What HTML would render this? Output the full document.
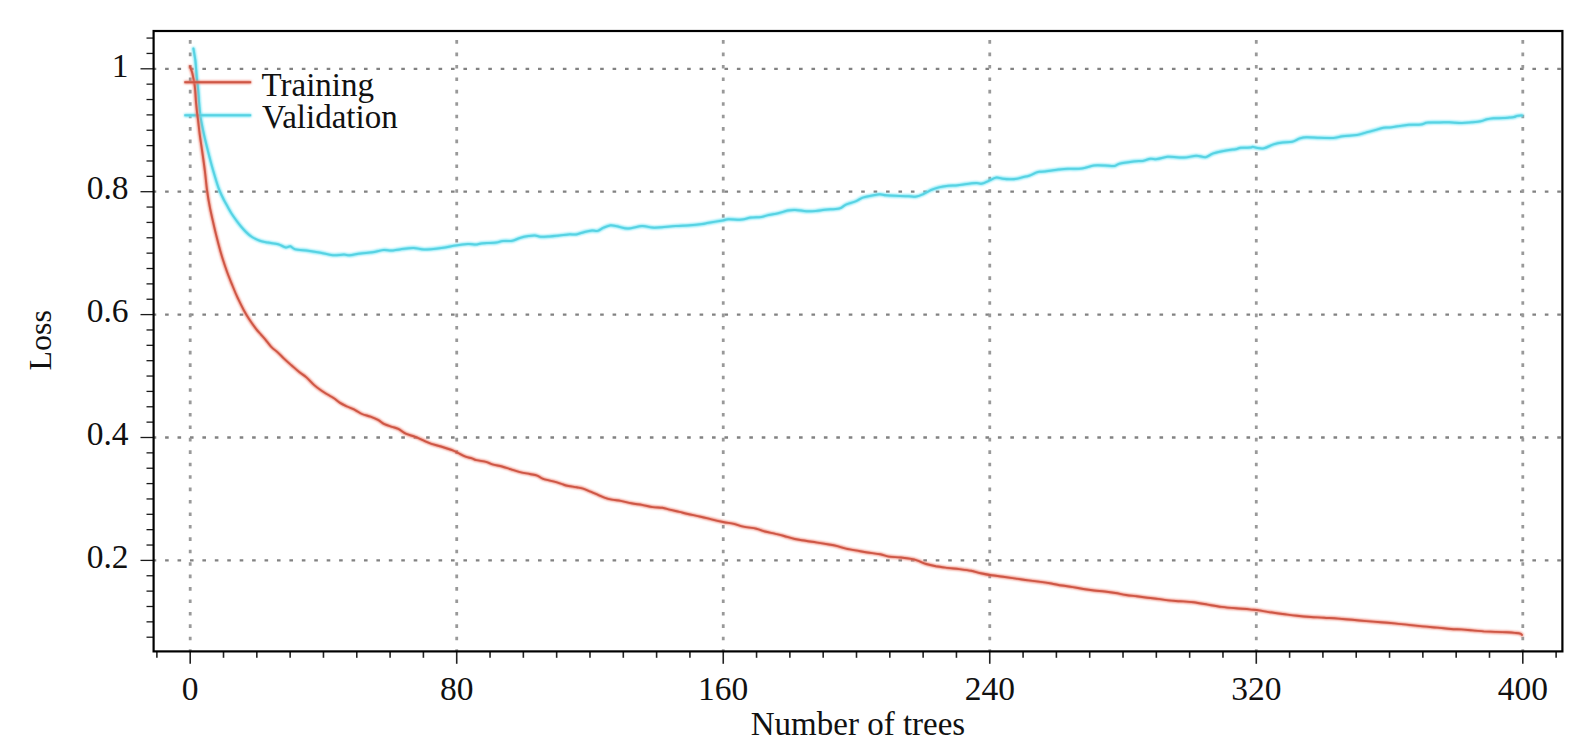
<!DOCTYPE html>
<html><head><meta charset="utf-8"><style>
html,body{margin:0;padding:0;background:#fff;}
svg{display:block;}
#w{width:1596px;height:750px;}
</style></head><body>
<div id="w"><svg width="1596" height="750" viewBox="0 0 1596 750">
<defs><filter id="hb" filterUnits="userSpaceOnUse" x="0" y="0" width="1596" height="750"><feGaussianBlur stdDeviation="1"/></filter></defs>
<rect width="1596" height="750" fill="#fff"/>
<line x1="153.6" y1="68.80" x2="1562.4" y2="68.80" stroke="#828282" stroke-width="2.3" stroke-dasharray="3.6 8.83" stroke-dashoffset="0.93"/>
<line x1="153.6" y1="191.70" x2="1562.4" y2="191.70" stroke="#828282" stroke-width="2.3" stroke-dasharray="3.6 8.83" stroke-dashoffset="0.93"/>
<line x1="153.6" y1="314.60" x2="1562.4" y2="314.60" stroke="#828282" stroke-width="2.3" stroke-dasharray="3.6 8.83" stroke-dashoffset="0.93"/>
<line x1="153.6" y1="437.50" x2="1562.4" y2="437.50" stroke="#828282" stroke-width="2.3" stroke-dasharray="3.6 8.83" stroke-dashoffset="0.93"/>
<line x1="153.6" y1="560.40" x2="1562.4" y2="560.40" stroke="#828282" stroke-width="2.3" stroke-dasharray="3.6 8.83" stroke-dashoffset="0.93"/>
<line x1="190.20" y1="31.0" x2="190.20" y2="651.4" stroke="#999999" stroke-width="2.8" stroke-dasharray="3.6 8.83" stroke-dashoffset="3.32"/>
<line x1="456.72" y1="31.0" x2="456.72" y2="651.4" stroke="#999999" stroke-width="2.8" stroke-dasharray="3.6 8.83" stroke-dashoffset="3.32"/>
<line x1="723.24" y1="31.0" x2="723.24" y2="651.4" stroke="#999999" stroke-width="2.8" stroke-dasharray="3.6 8.83" stroke-dashoffset="3.32"/>
<line x1="989.76" y1="31.0" x2="989.76" y2="651.4" stroke="#999999" stroke-width="2.8" stroke-dasharray="3.6 8.83" stroke-dashoffset="3.32"/>
<line x1="1256.28" y1="31.0" x2="1256.28" y2="651.4" stroke="#999999" stroke-width="2.8" stroke-dasharray="3.6 8.83" stroke-dashoffset="3.32"/>
<line x1="1522.80" y1="31.0" x2="1522.80" y2="651.4" stroke="#999999" stroke-width="2.8" stroke-dasharray="3.6 8.83" stroke-dashoffset="3.32"/>
<line x1="146.5" y1="38.07" x2="153.6" y2="38.07" stroke="#1a1a1a" stroke-width="1.3"/>
<line x1="146.5" y1="53.44" x2="153.6" y2="53.44" stroke="#1a1a1a" stroke-width="1.3"/>
<line x1="140.5" y1="68.80" x2="153.6" y2="68.80" stroke="#1a1a1a" stroke-width="1.3"/>
<line x1="146.5" y1="84.16" x2="153.6" y2="84.16" stroke="#1a1a1a" stroke-width="1.3"/>
<line x1="146.5" y1="99.53" x2="153.6" y2="99.53" stroke="#1a1a1a" stroke-width="1.3"/>
<line x1="146.5" y1="114.89" x2="153.6" y2="114.89" stroke="#1a1a1a" stroke-width="1.3"/>
<line x1="146.5" y1="130.25" x2="153.6" y2="130.25" stroke="#1a1a1a" stroke-width="1.3"/>
<line x1="146.5" y1="145.61" x2="153.6" y2="145.61" stroke="#1a1a1a" stroke-width="1.3"/>
<line x1="146.5" y1="160.98" x2="153.6" y2="160.98" stroke="#1a1a1a" stroke-width="1.3"/>
<line x1="146.5" y1="176.34" x2="153.6" y2="176.34" stroke="#1a1a1a" stroke-width="1.3"/>
<line x1="140.5" y1="191.70" x2="153.6" y2="191.70" stroke="#1a1a1a" stroke-width="1.3"/>
<line x1="146.5" y1="207.06" x2="153.6" y2="207.06" stroke="#1a1a1a" stroke-width="1.3"/>
<line x1="146.5" y1="222.43" x2="153.6" y2="222.43" stroke="#1a1a1a" stroke-width="1.3"/>
<line x1="146.5" y1="237.79" x2="153.6" y2="237.79" stroke="#1a1a1a" stroke-width="1.3"/>
<line x1="146.5" y1="253.15" x2="153.6" y2="253.15" stroke="#1a1a1a" stroke-width="1.3"/>
<line x1="146.5" y1="268.51" x2="153.6" y2="268.51" stroke="#1a1a1a" stroke-width="1.3"/>
<line x1="146.5" y1="283.88" x2="153.6" y2="283.88" stroke="#1a1a1a" stroke-width="1.3"/>
<line x1="146.5" y1="299.24" x2="153.6" y2="299.24" stroke="#1a1a1a" stroke-width="1.3"/>
<line x1="140.5" y1="314.60" x2="153.6" y2="314.60" stroke="#1a1a1a" stroke-width="1.3"/>
<line x1="146.5" y1="329.96" x2="153.6" y2="329.96" stroke="#1a1a1a" stroke-width="1.3"/>
<line x1="146.5" y1="345.32" x2="153.6" y2="345.32" stroke="#1a1a1a" stroke-width="1.3"/>
<line x1="146.5" y1="360.69" x2="153.6" y2="360.69" stroke="#1a1a1a" stroke-width="1.3"/>
<line x1="146.5" y1="376.05" x2="153.6" y2="376.05" stroke="#1a1a1a" stroke-width="1.3"/>
<line x1="146.5" y1="391.41" x2="153.6" y2="391.41" stroke="#1a1a1a" stroke-width="1.3"/>
<line x1="146.5" y1="406.78" x2="153.6" y2="406.78" stroke="#1a1a1a" stroke-width="1.3"/>
<line x1="146.5" y1="422.14" x2="153.6" y2="422.14" stroke="#1a1a1a" stroke-width="1.3"/>
<line x1="140.5" y1="437.50" x2="153.6" y2="437.50" stroke="#1a1a1a" stroke-width="1.3"/>
<line x1="146.5" y1="452.86" x2="153.6" y2="452.86" stroke="#1a1a1a" stroke-width="1.3"/>
<line x1="146.5" y1="468.23" x2="153.6" y2="468.23" stroke="#1a1a1a" stroke-width="1.3"/>
<line x1="146.5" y1="483.59" x2="153.6" y2="483.59" stroke="#1a1a1a" stroke-width="1.3"/>
<line x1="146.5" y1="498.95" x2="153.6" y2="498.95" stroke="#1a1a1a" stroke-width="1.3"/>
<line x1="146.5" y1="514.31" x2="153.6" y2="514.31" stroke="#1a1a1a" stroke-width="1.3"/>
<line x1="146.5" y1="529.67" x2="153.6" y2="529.67" stroke="#1a1a1a" stroke-width="1.3"/>
<line x1="146.5" y1="545.04" x2="153.6" y2="545.04" stroke="#1a1a1a" stroke-width="1.3"/>
<line x1="140.5" y1="560.40" x2="153.6" y2="560.40" stroke="#1a1a1a" stroke-width="1.3"/>
<line x1="146.5" y1="575.76" x2="153.6" y2="575.76" stroke="#1a1a1a" stroke-width="1.3"/>
<line x1="146.5" y1="591.12" x2="153.6" y2="591.12" stroke="#1a1a1a" stroke-width="1.3"/>
<line x1="146.5" y1="606.49" x2="153.6" y2="606.49" stroke="#1a1a1a" stroke-width="1.3"/>
<line x1="146.5" y1="621.85" x2="153.6" y2="621.85" stroke="#1a1a1a" stroke-width="1.3"/>
<line x1="146.5" y1="637.21" x2="153.6" y2="637.21" stroke="#1a1a1a" stroke-width="1.3"/>
<line x1="156.88" y1="651.4" x2="156.88" y2="657.8" stroke="#222" stroke-width="1.6"/>
<line x1="190.20" y1="651.4" x2="190.20" y2="663.8" stroke="#222" stroke-width="1.6"/>
<line x1="223.51" y1="651.4" x2="223.51" y2="657.8" stroke="#222" stroke-width="1.6"/>
<line x1="256.83" y1="651.4" x2="256.83" y2="657.8" stroke="#222" stroke-width="1.6"/>
<line x1="290.14" y1="651.4" x2="290.14" y2="657.8" stroke="#222" stroke-width="1.6"/>
<line x1="323.46" y1="651.4" x2="323.46" y2="657.8" stroke="#222" stroke-width="1.6"/>
<line x1="356.77" y1="651.4" x2="356.77" y2="657.8" stroke="#222" stroke-width="1.6"/>
<line x1="390.09" y1="651.4" x2="390.09" y2="657.8" stroke="#222" stroke-width="1.6"/>
<line x1="423.40" y1="651.4" x2="423.40" y2="657.8" stroke="#222" stroke-width="1.6"/>
<line x1="456.72" y1="651.4" x2="456.72" y2="663.8" stroke="#222" stroke-width="1.6"/>
<line x1="490.04" y1="651.4" x2="490.04" y2="657.8" stroke="#222" stroke-width="1.6"/>
<line x1="523.35" y1="651.4" x2="523.35" y2="657.8" stroke="#222" stroke-width="1.6"/>
<line x1="556.66" y1="651.4" x2="556.66" y2="657.8" stroke="#222" stroke-width="1.6"/>
<line x1="589.98" y1="651.4" x2="589.98" y2="657.8" stroke="#222" stroke-width="1.6"/>
<line x1="623.30" y1="651.4" x2="623.30" y2="657.8" stroke="#222" stroke-width="1.6"/>
<line x1="656.61" y1="651.4" x2="656.61" y2="657.8" stroke="#222" stroke-width="1.6"/>
<line x1="689.92" y1="651.4" x2="689.92" y2="657.8" stroke="#222" stroke-width="1.6"/>
<line x1="723.24" y1="651.4" x2="723.24" y2="663.8" stroke="#222" stroke-width="1.6"/>
<line x1="756.56" y1="651.4" x2="756.56" y2="657.8" stroke="#222" stroke-width="1.6"/>
<line x1="789.87" y1="651.4" x2="789.87" y2="657.8" stroke="#222" stroke-width="1.6"/>
<line x1="823.18" y1="651.4" x2="823.18" y2="657.8" stroke="#222" stroke-width="1.6"/>
<line x1="856.50" y1="651.4" x2="856.50" y2="657.8" stroke="#222" stroke-width="1.6"/>
<line x1="889.82" y1="651.4" x2="889.82" y2="657.8" stroke="#222" stroke-width="1.6"/>
<line x1="923.13" y1="651.4" x2="923.13" y2="657.8" stroke="#222" stroke-width="1.6"/>
<line x1="956.44" y1="651.4" x2="956.44" y2="657.8" stroke="#222" stroke-width="1.6"/>
<line x1="989.76" y1="651.4" x2="989.76" y2="663.8" stroke="#222" stroke-width="1.6"/>
<line x1="1023.08" y1="651.4" x2="1023.08" y2="657.8" stroke="#222" stroke-width="1.6"/>
<line x1="1056.39" y1="651.4" x2="1056.39" y2="657.8" stroke="#222" stroke-width="1.6"/>
<line x1="1089.70" y1="651.4" x2="1089.70" y2="657.8" stroke="#222" stroke-width="1.6"/>
<line x1="1123.02" y1="651.4" x2="1123.02" y2="657.8" stroke="#222" stroke-width="1.6"/>
<line x1="1156.34" y1="651.4" x2="1156.34" y2="657.8" stroke="#222" stroke-width="1.6"/>
<line x1="1189.65" y1="651.4" x2="1189.65" y2="657.8" stroke="#222" stroke-width="1.6"/>
<line x1="1222.97" y1="651.4" x2="1222.97" y2="657.8" stroke="#222" stroke-width="1.6"/>
<line x1="1256.28" y1="651.4" x2="1256.28" y2="663.8" stroke="#222" stroke-width="1.6"/>
<line x1="1289.60" y1="651.4" x2="1289.60" y2="657.8" stroke="#222" stroke-width="1.6"/>
<line x1="1322.91" y1="651.4" x2="1322.91" y2="657.8" stroke="#222" stroke-width="1.6"/>
<line x1="1356.23" y1="651.4" x2="1356.23" y2="657.8" stroke="#222" stroke-width="1.6"/>
<line x1="1389.54" y1="651.4" x2="1389.54" y2="657.8" stroke="#222" stroke-width="1.6"/>
<line x1="1422.86" y1="651.4" x2="1422.86" y2="657.8" stroke="#222" stroke-width="1.6"/>
<line x1="1456.17" y1="651.4" x2="1456.17" y2="657.8" stroke="#222" stroke-width="1.6"/>
<line x1="1489.49" y1="651.4" x2="1489.49" y2="657.8" stroke="#222" stroke-width="1.6"/>
<line x1="1522.80" y1="651.4" x2="1522.80" y2="663.8" stroke="#222" stroke-width="1.6"/>
<line x1="1556.12" y1="651.4" x2="1556.12" y2="657.8" stroke="#222" stroke-width="1.6"/>
<rect x="153.6" y="31.0" width="1408.8" height="620.4" fill="none" stroke="#000" stroke-width="2.2"/>
<path d="M193.4,48.5 C193.7,50.4 194.8,56.4 195.3,60.0 C195.8,63.6 195.9,67.0 196.2,70.0 C196.4,73.0 196.5,75.3 196.8,78.0 C197.1,80.7 197.5,83.2 197.8,86.0 C198.1,88.8 198.3,91.8 198.6,95.0 C198.8,98.2 199.0,101.6 199.3,105.0 C199.6,108.4 199.7,111.1 200.3,115.3 C200.9,119.5 201.8,124.2 203.0,130.0 C204.2,135.8 206.0,143.3 207.7,150.0 C209.4,156.7 211.2,163.8 213.0,170.0 C214.8,176.2 216.8,183.0 218.3,187.3 C219.8,191.6 220.9,193.6 222.0,196.0 C223.1,198.4 224.0,200.2 225.0,202.0 C226.0,203.8 226.7,205.1 227.8,207.0 C228.9,208.9 230.1,211.3 231.5,213.5 C232.9,215.7 234.4,217.8 236.0,220.0 C237.6,222.2 239.3,224.5 241.0,226.5 C242.7,228.5 244.2,230.2 246.0,232.0 C247.8,233.8 249.7,235.5 252.0,237.0 C254.3,238.5 257.1,239.9 259.8,240.8 C262.5,241.7 264.9,242.0 268.0,242.6 C271.1,243.2 275.2,243.5 278.2,244.3 C281.1,245.1 283.7,247.1 285.7,247.4 C287.7,247.7 288.8,246.0 290.4,246.3 C292.0,246.6 292.1,248.4 295.1,249.2 C298.1,249.9 304.1,250.2 308.3,250.8 C312.5,251.4 316.4,252.0 320.5,252.7 C324.6,253.4 328.8,254.9 332.7,255.2 C336.6,255.5 341.2,254.6 344.0,254.6 C346.8,254.6 346.8,255.5 349.6,255.3 C352.4,255.1 357.1,253.9 360.9,253.4 C364.7,252.9 368.4,252.9 372.2,252.3 C376.0,251.7 380.4,250.3 383.5,250.0 C386.6,249.7 388.2,250.7 391.0,250.6 C393.8,250.5 396.3,249.8 400.0,249.4 C403.7,249.0 409.3,247.9 413.3,247.9 C417.3,247.9 419.5,249.5 424.2,249.5 C428.9,249.5 436.3,248.6 441.5,247.9 C446.7,247.2 451.2,246.2 455.6,245.5 C460.0,244.8 464.8,244.2 468.1,244.0 C471.4,243.8 473.4,244.7 475.6,244.6 C477.8,244.5 479.1,243.7 481.3,243.4 C483.5,243.1 486.3,243.1 488.8,243.0 C491.3,242.9 494.0,242.9 496.3,242.6 C498.6,242.3 500.2,241.3 502.9,241.0 C505.6,240.7 509.5,241.3 512.3,240.8 C515.1,240.3 517.1,238.8 519.8,238.0 C522.5,237.2 525.8,236.5 528.3,236.1 C530.8,235.7 532.8,235.3 534.8,235.4 C536.8,235.5 538.0,236.6 540.5,236.8 C543.0,237.0 546.8,236.6 549.9,236.4 C553.0,236.2 556.2,235.8 559.3,235.5 C562.4,235.2 565.9,234.6 568.7,234.4 C571.5,234.2 573.5,234.8 576.2,234.4 C578.9,234.0 582.0,232.5 584.7,231.9 C587.4,231.3 590.0,230.8 592.2,230.6 C594.4,230.4 595.9,231.4 597.8,230.9 C599.7,230.4 601.5,228.6 603.5,227.7 C605.5,226.8 607.8,225.7 610.0,225.4 C612.2,225.2 613.6,225.7 616.6,226.2 C619.6,226.7 623.7,228.6 627.9,228.6 C632.1,228.6 637.9,226.3 642.0,226.1 C646.1,225.9 649.0,227.4 652.3,227.6 C655.6,227.8 657.8,227.6 661.7,227.3 C665.6,227.0 671.1,226.3 675.8,226.0 C680.5,225.7 685.5,225.6 689.9,225.3 C694.3,225.0 699.0,224.5 702.1,224.1 C705.2,223.7 705.2,223.4 708.7,222.8 C712.2,222.2 719.5,221.0 722.8,220.4 C726.1,219.8 725.3,219.3 728.4,219.2 C731.5,219.1 737.8,219.9 741.6,219.6 C745.4,219.3 747.7,218.0 751.0,217.6 C754.3,217.2 758.3,217.4 761.3,217.0 C764.3,216.6 766.0,215.5 768.8,214.9 C771.6,214.3 775.1,214.0 778.2,213.3 C781.3,212.6 784.8,211.2 787.6,210.6 C790.4,210.0 792.0,209.8 795.1,209.9 C798.2,210.0 803.0,211.1 806.4,211.3 C809.8,211.5 812.7,211.3 815.8,211.0 C818.9,210.7 821.3,210.1 825.2,209.7 C829.1,209.3 835.8,209.3 839.3,208.5 C842.8,207.7 843.1,205.8 845.9,204.6 C848.7,203.4 853.4,202.3 856.2,201.1 C859.0,199.9 860.1,198.5 862.8,197.6 C865.5,196.7 869.4,196.1 872.2,195.6 C875.0,195.1 877.4,194.4 879.7,194.3 C882.1,194.2 882.9,195.0 886.3,195.3 C889.7,195.6 896.2,195.8 900.0,196.0 C903.8,196.2 906.1,196.1 908.8,196.2 C911.5,196.3 913.9,196.9 916.3,196.6 C918.6,196.3 920.5,195.4 922.9,194.3 C925.2,193.2 927.7,191.5 930.4,190.3 C933.1,189.2 935.9,188.2 938.9,187.4 C941.9,186.7 945.2,186.2 948.3,185.8 C951.4,185.5 954.9,185.6 957.7,185.3 C960.5,185.0 962.1,184.6 965.2,184.2 C968.3,183.8 973.7,183.2 976.5,183.1 C979.3,183.0 980.1,184.0 982.1,183.6 C984.1,183.2 986.4,181.8 988.7,180.8 C991.1,179.8 993.9,177.9 996.2,177.6 C998.6,177.2 1000.4,178.4 1002.8,178.7 C1005.1,179.0 1007.9,179.2 1010.3,179.2 C1012.6,179.2 1014.7,179.1 1016.9,178.7 C1019.1,178.3 1021.5,177.5 1023.5,177.0 C1025.5,176.5 1026.9,176.6 1029.1,175.8 C1031.3,175.0 1034.8,173.1 1036.6,172.4 C1038.4,171.7 1038.8,171.8 1040.0,171.7 C1041.2,171.5 1041.1,171.8 1044.1,171.5 C1047.1,171.2 1054.3,170.0 1058.2,169.6 C1062.1,169.2 1063.7,169.0 1067.6,168.8 C1071.5,168.6 1077.3,169.1 1081.7,168.5 C1086.1,167.9 1090.0,166.0 1093.9,165.5 C1097.8,165.0 1101.8,165.5 1105.2,165.6 C1108.7,165.7 1112.2,166.3 1114.6,166.0 C1116.9,165.7 1116.2,164.5 1119.3,163.7 C1122.4,162.9 1129.5,161.9 1133.4,161.4 C1137.3,160.9 1140.0,161.3 1142.8,160.9 C1145.6,160.5 1147.9,159.1 1150.3,158.8 C1152.7,158.5 1154.2,159.4 1156.9,159.1 C1159.6,158.8 1164.1,157.4 1166.3,157.0 C1168.5,156.6 1167.0,156.7 1170.0,156.8 C1173.0,156.9 1179.7,157.8 1184.1,157.6 C1188.5,157.4 1192.7,155.9 1196.3,155.8 C1199.9,155.7 1202.9,157.6 1205.7,157.2 C1208.5,156.8 1209.8,154.5 1213.2,153.4 C1216.7,152.3 1222.6,151.1 1226.4,150.4 C1230.2,149.7 1233.5,149.6 1235.8,149.2 C1238.1,148.8 1238.2,148.1 1240.5,147.8 C1242.8,147.5 1247.9,147.8 1249.9,147.6 C1251.9,147.4 1251.6,146.8 1252.7,146.8 C1253.8,146.8 1254.6,147.6 1256.5,147.8 C1258.4,148.1 1261.2,148.9 1264.0,148.3 C1266.8,147.7 1270.3,145.4 1273.4,144.4 C1276.5,143.4 1279.7,142.8 1282.8,142.4 C1285.9,142.0 1289.4,142.5 1292.2,141.8 C1295.0,141.1 1297.4,139.2 1299.7,138.4 C1302.0,137.7 1302.9,137.4 1306.3,137.3 C1309.7,137.2 1315.5,137.7 1320.0,137.8 C1324.5,137.9 1329.7,138.3 1333.5,138.0 C1337.3,137.7 1339.0,136.7 1342.9,136.2 C1346.8,135.7 1353.1,135.6 1357.0,135.0 C1360.9,134.4 1363.3,133.2 1366.4,132.4 C1369.5,131.6 1373.0,130.7 1375.8,129.9 C1378.6,129.1 1380.9,128.2 1383.3,127.8 C1385.7,127.4 1387.2,127.8 1389.9,127.5 C1392.6,127.2 1396.2,126.5 1399.3,126.1 C1402.4,125.6 1405.1,125.1 1408.7,124.8 C1412.3,124.5 1417.8,124.9 1420.9,124.5 C1424.0,124.1 1424.4,122.9 1427.5,122.6 C1430.6,122.2 1436.0,122.5 1439.7,122.4 C1443.4,122.4 1445.7,122.2 1449.4,122.3 C1453.1,122.4 1458.2,123.0 1461.9,123.0 C1465.6,123.0 1468.2,122.6 1471.3,122.3 C1474.4,122.0 1478.1,121.7 1480.7,121.2 C1483.3,120.7 1484.9,119.8 1487.0,119.3 C1489.1,118.8 1490.7,118.5 1493.3,118.3 C1495.9,118.1 1500.1,118.2 1502.7,118.1 C1505.3,118.0 1507.0,117.8 1508.9,117.6 C1510.8,117.4 1512.5,117.4 1513.9,117.1 C1515.3,116.8 1515.8,116.2 1517.1,115.9 C1518.4,115.6 1521.2,115.5 1522.0,115.4" fill="none" stroke="rgb(100,226,244)" stroke-width="3.2" stroke-linejoin="round" stroke-linecap="round" filter="url(#hb)"/>
<path d="M193.4,48.5 C193.7,50.4 194.8,56.4 195.3,60.0 C195.8,63.6 195.9,67.0 196.2,70.0 C196.4,73.0 196.5,75.3 196.8,78.0 C197.1,80.7 197.5,83.2 197.8,86.0 C198.1,88.8 198.3,91.8 198.6,95.0 C198.8,98.2 199.0,101.6 199.3,105.0 C199.6,108.4 199.7,111.1 200.3,115.3 C200.9,119.5 201.8,124.2 203.0,130.0 C204.2,135.8 206.0,143.3 207.7,150.0 C209.4,156.7 211.2,163.8 213.0,170.0 C214.8,176.2 216.8,183.0 218.3,187.3 C219.8,191.6 220.9,193.6 222.0,196.0 C223.1,198.4 224.0,200.2 225.0,202.0 C226.0,203.8 226.7,205.1 227.8,207.0 C228.9,208.9 230.1,211.3 231.5,213.5 C232.9,215.7 234.4,217.8 236.0,220.0 C237.6,222.2 239.3,224.5 241.0,226.5 C242.7,228.5 244.2,230.2 246.0,232.0 C247.8,233.8 249.7,235.5 252.0,237.0 C254.3,238.5 257.1,239.9 259.8,240.8 C262.5,241.7 264.9,242.0 268.0,242.6 C271.1,243.2 275.2,243.5 278.2,244.3 C281.1,245.1 283.7,247.1 285.7,247.4 C287.7,247.7 288.8,246.0 290.4,246.3 C292.0,246.6 292.1,248.4 295.1,249.2 C298.1,249.9 304.1,250.2 308.3,250.8 C312.5,251.4 316.4,252.0 320.5,252.7 C324.6,253.4 328.8,254.9 332.7,255.2 C336.6,255.5 341.2,254.6 344.0,254.6 C346.8,254.6 346.8,255.5 349.6,255.3 C352.4,255.1 357.1,253.9 360.9,253.4 C364.7,252.9 368.4,252.9 372.2,252.3 C376.0,251.7 380.4,250.3 383.5,250.0 C386.6,249.7 388.2,250.7 391.0,250.6 C393.8,250.5 396.3,249.8 400.0,249.4 C403.7,249.0 409.3,247.9 413.3,247.9 C417.3,247.9 419.5,249.5 424.2,249.5 C428.9,249.5 436.3,248.6 441.5,247.9 C446.7,247.2 451.2,246.2 455.6,245.5 C460.0,244.8 464.8,244.2 468.1,244.0 C471.4,243.8 473.4,244.7 475.6,244.6 C477.8,244.5 479.1,243.7 481.3,243.4 C483.5,243.1 486.3,243.1 488.8,243.0 C491.3,242.9 494.0,242.9 496.3,242.6 C498.6,242.3 500.2,241.3 502.9,241.0 C505.6,240.7 509.5,241.3 512.3,240.8 C515.1,240.3 517.1,238.8 519.8,238.0 C522.5,237.2 525.8,236.5 528.3,236.1 C530.8,235.7 532.8,235.3 534.8,235.4 C536.8,235.5 538.0,236.6 540.5,236.8 C543.0,237.0 546.8,236.6 549.9,236.4 C553.0,236.2 556.2,235.8 559.3,235.5 C562.4,235.2 565.9,234.6 568.7,234.4 C571.5,234.2 573.5,234.8 576.2,234.4 C578.9,234.0 582.0,232.5 584.7,231.9 C587.4,231.3 590.0,230.8 592.2,230.6 C594.4,230.4 595.9,231.4 597.8,230.9 C599.7,230.4 601.5,228.6 603.5,227.7 C605.5,226.8 607.8,225.7 610.0,225.4 C612.2,225.2 613.6,225.7 616.6,226.2 C619.6,226.7 623.7,228.6 627.9,228.6 C632.1,228.6 637.9,226.3 642.0,226.1 C646.1,225.9 649.0,227.4 652.3,227.6 C655.6,227.8 657.8,227.6 661.7,227.3 C665.6,227.0 671.1,226.3 675.8,226.0 C680.5,225.7 685.5,225.6 689.9,225.3 C694.3,225.0 699.0,224.5 702.1,224.1 C705.2,223.7 705.2,223.4 708.7,222.8 C712.2,222.2 719.5,221.0 722.8,220.4 C726.1,219.8 725.3,219.3 728.4,219.2 C731.5,219.1 737.8,219.9 741.6,219.6 C745.4,219.3 747.7,218.0 751.0,217.6 C754.3,217.2 758.3,217.4 761.3,217.0 C764.3,216.6 766.0,215.5 768.8,214.9 C771.6,214.3 775.1,214.0 778.2,213.3 C781.3,212.6 784.8,211.2 787.6,210.6 C790.4,210.0 792.0,209.8 795.1,209.9 C798.2,210.0 803.0,211.1 806.4,211.3 C809.8,211.5 812.7,211.3 815.8,211.0 C818.9,210.7 821.3,210.1 825.2,209.7 C829.1,209.3 835.8,209.3 839.3,208.5 C842.8,207.7 843.1,205.8 845.9,204.6 C848.7,203.4 853.4,202.3 856.2,201.1 C859.0,199.9 860.1,198.5 862.8,197.6 C865.5,196.7 869.4,196.1 872.2,195.6 C875.0,195.1 877.4,194.4 879.7,194.3 C882.1,194.2 882.9,195.0 886.3,195.3 C889.7,195.6 896.2,195.8 900.0,196.0 C903.8,196.2 906.1,196.1 908.8,196.2 C911.5,196.3 913.9,196.9 916.3,196.6 C918.6,196.3 920.5,195.4 922.9,194.3 C925.2,193.2 927.7,191.5 930.4,190.3 C933.1,189.2 935.9,188.2 938.9,187.4 C941.9,186.7 945.2,186.2 948.3,185.8 C951.4,185.5 954.9,185.6 957.7,185.3 C960.5,185.0 962.1,184.6 965.2,184.2 C968.3,183.8 973.7,183.2 976.5,183.1 C979.3,183.0 980.1,184.0 982.1,183.6 C984.1,183.2 986.4,181.8 988.7,180.8 C991.1,179.8 993.9,177.9 996.2,177.6 C998.6,177.2 1000.4,178.4 1002.8,178.7 C1005.1,179.0 1007.9,179.2 1010.3,179.2 C1012.6,179.2 1014.7,179.1 1016.9,178.7 C1019.1,178.3 1021.5,177.5 1023.5,177.0 C1025.5,176.5 1026.9,176.6 1029.1,175.8 C1031.3,175.0 1034.8,173.1 1036.6,172.4 C1038.4,171.7 1038.8,171.8 1040.0,171.7 C1041.2,171.5 1041.1,171.8 1044.1,171.5 C1047.1,171.2 1054.3,170.0 1058.2,169.6 C1062.1,169.2 1063.7,169.0 1067.6,168.8 C1071.5,168.6 1077.3,169.1 1081.7,168.5 C1086.1,167.9 1090.0,166.0 1093.9,165.5 C1097.8,165.0 1101.8,165.5 1105.2,165.6 C1108.7,165.7 1112.2,166.3 1114.6,166.0 C1116.9,165.7 1116.2,164.5 1119.3,163.7 C1122.4,162.9 1129.5,161.9 1133.4,161.4 C1137.3,160.9 1140.0,161.3 1142.8,160.9 C1145.6,160.5 1147.9,159.1 1150.3,158.8 C1152.7,158.5 1154.2,159.4 1156.9,159.1 C1159.6,158.8 1164.1,157.4 1166.3,157.0 C1168.5,156.6 1167.0,156.7 1170.0,156.8 C1173.0,156.9 1179.7,157.8 1184.1,157.6 C1188.5,157.4 1192.7,155.9 1196.3,155.8 C1199.9,155.7 1202.9,157.6 1205.7,157.2 C1208.5,156.8 1209.8,154.5 1213.2,153.4 C1216.7,152.3 1222.6,151.1 1226.4,150.4 C1230.2,149.7 1233.5,149.6 1235.8,149.2 C1238.1,148.8 1238.2,148.1 1240.5,147.8 C1242.8,147.5 1247.9,147.8 1249.9,147.6 C1251.9,147.4 1251.6,146.8 1252.7,146.8 C1253.8,146.8 1254.6,147.6 1256.5,147.8 C1258.4,148.1 1261.2,148.9 1264.0,148.3 C1266.8,147.7 1270.3,145.4 1273.4,144.4 C1276.5,143.4 1279.7,142.8 1282.8,142.4 C1285.9,142.0 1289.4,142.5 1292.2,141.8 C1295.0,141.1 1297.4,139.2 1299.7,138.4 C1302.0,137.7 1302.9,137.4 1306.3,137.3 C1309.7,137.2 1315.5,137.7 1320.0,137.8 C1324.5,137.9 1329.7,138.3 1333.5,138.0 C1337.3,137.7 1339.0,136.7 1342.9,136.2 C1346.8,135.7 1353.1,135.6 1357.0,135.0 C1360.9,134.4 1363.3,133.2 1366.4,132.4 C1369.5,131.6 1373.0,130.7 1375.8,129.9 C1378.6,129.1 1380.9,128.2 1383.3,127.8 C1385.7,127.4 1387.2,127.8 1389.9,127.5 C1392.6,127.2 1396.2,126.5 1399.3,126.1 C1402.4,125.6 1405.1,125.1 1408.7,124.8 C1412.3,124.5 1417.8,124.9 1420.9,124.5 C1424.0,124.1 1424.4,122.9 1427.5,122.6 C1430.6,122.2 1436.0,122.5 1439.7,122.4 C1443.4,122.4 1445.7,122.2 1449.4,122.3 C1453.1,122.4 1458.2,123.0 1461.9,123.0 C1465.6,123.0 1468.2,122.6 1471.3,122.3 C1474.4,122.0 1478.1,121.7 1480.7,121.2 C1483.3,120.7 1484.9,119.8 1487.0,119.3 C1489.1,118.8 1490.7,118.5 1493.3,118.3 C1495.9,118.1 1500.1,118.2 1502.7,118.1 C1505.3,118.0 1507.0,117.8 1508.9,117.6 C1510.8,117.4 1512.5,117.4 1513.9,117.1 C1515.3,116.8 1515.8,116.2 1517.1,115.9 C1518.4,115.6 1521.2,115.5 1522.0,115.4" fill="none" stroke="#58d2e2" stroke-width="2.0" stroke-linejoin="round" stroke-linecap="round"/>
<line x1="184.3" y1="115.3" x2="251.2" y2="115.3" stroke="rgb(100,226,244)" stroke-width="3.2" filter="url(#hb)"/>
<line x1="184.3" y1="115.3" x2="251.2" y2="115.3" stroke="#58d2e2" stroke-width="2.0"/>
<path d="M190.0,66.5 C190.3,67.4 191.4,70.1 192.0,72.0 C192.6,73.9 192.9,76.0 193.3,78.0 C193.7,80.0 194.2,81.7 194.5,84.0 C194.8,86.3 195.1,89.0 195.3,92.0 C195.6,95.0 195.7,98.7 196.0,102.0 C196.3,105.3 196.7,109.2 197.0,112.0 C197.3,114.8 197.4,115.2 197.9,119.0 C198.4,122.8 199.1,129.8 199.8,135.0 C200.5,140.2 201.1,143.8 202.0,150.0 C202.9,156.2 204.2,165.3 205.0,172.0 C205.8,178.7 206.2,184.0 207.0,190.0 C207.8,196.0 208.8,202.0 210.0,208.0 C211.2,214.0 212.6,219.8 214.0,226.0 C215.4,232.2 217.3,239.6 218.7,244.9 C220.1,250.2 221.0,253.5 222.4,258.0 C223.8,262.5 225.4,267.3 227.1,272.0 C228.8,276.7 230.8,281.5 232.6,286.0 C234.4,290.5 236.3,295.0 238.2,299.0 C240.1,303.0 241.9,306.8 243.8,310.2 C245.7,313.6 247.4,316.5 249.4,319.6 C251.4,322.7 254.1,326.4 256.0,328.9 C257.9,331.4 259.3,332.7 260.9,334.5 C262.5,336.3 263.9,337.8 265.6,339.8 C267.3,341.9 269.2,344.7 271.2,346.8 C273.2,348.9 275.5,350.4 277.7,352.4 C279.9,354.4 282.0,356.7 284.3,358.9 C286.6,361.1 289.2,363.3 291.7,365.5 C294.2,367.7 296.7,370.0 299.2,372.0 C301.7,374.0 304.2,375.4 306.7,377.6 C309.2,379.8 311.7,382.9 314.2,385.1 C316.7,387.3 318.8,388.8 321.6,390.7 C324.4,392.6 328.9,395.2 331.0,396.5 C333.1,397.8 332.9,397.4 334.3,398.4 C335.7,399.4 337.5,401.2 339.6,402.6 C341.7,404.0 344.4,405.2 347.1,406.5 C349.8,407.8 353.1,409.1 355.6,410.3 C358.1,411.6 359.5,412.9 362.0,414.0 C364.5,415.1 367.8,415.7 370.5,416.7 C373.2,417.7 375.7,418.7 378.0,419.9 C380.3,421.1 382.1,423.0 384.4,424.1 C386.7,425.2 389.6,426.0 391.9,426.8 C394.2,427.6 396.0,427.8 398.3,428.9 C400.6,430.0 402.9,432.4 405.7,433.7 C408.5,435.0 412.4,435.7 415.4,436.9 C418.4,438.1 421.2,439.5 423.9,440.7 C426.6,441.9 428.5,442.9 431.4,443.9 C434.2,444.9 437.4,445.4 441.0,446.5 C444.6,447.6 449.9,449.2 452.7,450.3 C455.5,451.4 455.9,451.8 458.0,452.9 C460.1,454.0 463.2,455.8 465.5,456.7 C467.8,457.6 470.1,457.7 471.9,458.3 C473.7,458.9 474.0,459.5 476.4,460.1 C478.8,460.7 483.3,461.2 486.0,461.9 C488.7,462.6 489.7,463.6 492.4,464.4 C495.1,465.2 499.0,465.7 502.0,466.5 C505.0,467.3 507.6,468.3 510.5,469.2 C513.4,470.1 515.9,471.1 519.1,471.9 C522.3,472.7 526.7,473.4 529.7,474.0 C532.7,474.6 535.1,474.8 537.2,475.6 C539.3,476.4 540.2,477.7 542.5,478.6 C544.8,479.5 548.1,480.1 551.1,480.9 C554.1,481.7 558.2,482.8 560.7,483.6 C563.2,484.4 563.3,484.9 566.0,485.5 C568.7,486.1 573.9,486.8 576.7,487.3 C579.6,487.8 580.8,487.9 583.1,488.6 C585.4,489.3 588.1,490.6 590.6,491.6 C593.1,492.6 595.7,493.8 598.0,494.8 C600.3,495.8 602.1,496.8 604.4,497.6 C606.7,498.4 609.2,499.1 611.9,499.6 C614.6,500.2 617.5,500.3 620.7,500.9 C623.9,501.5 627.8,502.6 631.3,503.3 C634.8,504.0 638.4,504.3 642.0,504.9 C645.6,505.5 649.3,506.6 652.7,507.1 C656.1,507.6 659.5,507.4 662.3,507.8 C665.1,508.2 666.9,509.0 669.7,509.7 C672.5,510.4 676.3,511.2 679.3,511.9 C682.3,512.6 684.3,513.2 687.9,514.0 C691.5,514.8 696.8,515.8 700.7,516.7 C704.6,517.6 707.7,518.4 711.4,519.3 C715.1,520.2 719.4,521.2 723.1,522.0 C726.8,522.8 730.4,523.0 733.8,523.8 C737.2,524.6 739.6,525.8 743.4,526.6 C747.2,527.4 752.8,527.9 756.4,528.7 C760.0,529.5 761.7,530.6 764.9,531.5 C768.1,532.4 772.4,533.1 775.6,533.9 C778.8,534.6 780.9,535.1 784.1,536.0 C787.3,536.9 791.2,538.2 794.8,539.0 C798.4,539.8 802.0,540.2 805.5,540.8 C809.0,541.4 812.2,541.8 816.1,542.4 C820.0,543.0 825.4,543.9 829.0,544.5 C832.6,545.1 834.7,545.5 837.5,546.2 C840.3,546.9 843.0,547.9 846.0,548.6 C849.0,549.3 852.0,549.8 855.6,550.4 C859.2,551.0 863.3,551.9 867.4,552.5 C871.5,553.1 876.7,553.6 880.2,554.3 C883.8,555.0 885.3,556.1 888.7,556.6 C892.1,557.1 896.9,557.1 900.7,557.5 C904.5,557.9 908.5,558.4 911.3,558.9 C914.1,559.4 915.2,559.8 917.7,560.6 C920.2,561.5 923.3,563.0 926.3,564.0 C929.3,565.0 932.3,565.6 935.9,566.3 C939.5,566.9 943.7,567.4 947.6,567.9 C951.5,568.4 955.4,568.6 959.3,569.1 C963.2,569.6 967.5,570.1 971.1,570.8 C974.7,571.5 977.3,572.5 980.7,573.2 C984.1,573.9 987.7,574.6 991.4,575.2 C995.1,575.8 999.0,576.1 1003.1,576.7 C1007.2,577.3 1011.6,578.0 1015.9,578.6 C1020.2,579.2 1024.6,579.9 1028.7,580.4 C1032.8,580.9 1036.9,581.4 1040.7,581.9 C1044.5,582.4 1047.8,582.9 1051.3,583.5 C1054.8,584.1 1058.4,584.9 1062.0,585.5 C1065.6,586.1 1069.2,586.5 1072.7,587.1 C1076.2,587.7 1079.8,588.4 1083.3,589.0 C1086.8,589.6 1090.4,590.1 1094.0,590.5 C1097.6,590.9 1101.1,591.1 1104.7,591.5 C1108.3,591.9 1111.9,592.4 1115.4,593.0 C1119.0,593.6 1122.5,594.5 1126.0,595.0 C1129.5,595.5 1133.1,595.8 1136.7,596.2 C1140.3,596.7 1143.9,597.2 1147.4,597.7 C1151.0,598.2 1154.5,598.5 1158.0,598.9 C1161.5,599.3 1165.0,600.0 1168.7,600.4 C1172.4,600.8 1175.9,600.9 1180.0,601.2 C1184.1,601.5 1188.9,601.7 1193.5,602.3 C1198.1,602.9 1202.9,603.8 1207.6,604.6 C1212.3,605.4 1217.0,606.3 1221.7,606.9 C1226.4,607.5 1231.1,607.9 1235.8,608.3 C1240.5,608.7 1246.0,609.0 1249.9,609.4 C1253.8,609.8 1256.2,609.9 1259.3,610.4 C1262.4,610.9 1264.8,611.5 1268.7,612.1 C1272.6,612.7 1278.1,613.4 1282.8,614.0 C1287.5,614.6 1292.2,615.3 1296.9,615.8 C1301.6,616.3 1306.5,616.7 1311.0,617.0 C1315.5,617.3 1319.6,617.4 1324.1,617.7 C1328.6,618.0 1333.5,618.2 1338.2,618.6 C1342.9,619.0 1347.6,619.4 1352.3,619.8 C1357.0,620.2 1361.7,620.7 1366.4,621.1 C1371.1,621.5 1375.8,621.8 1380.5,622.2 C1385.2,622.6 1389.9,623.0 1394.6,623.4 C1399.3,623.8 1404.0,624.4 1408.7,624.9 C1413.4,625.4 1418.1,625.9 1422.8,626.4 C1427.5,626.9 1432.2,627.2 1436.9,627.6 C1441.6,628.0 1446.9,628.7 1451.0,629.0 C1455.1,629.3 1457.7,629.2 1461.3,629.4 C1464.9,629.6 1468.8,630.1 1472.6,630.4 C1476.3,630.7 1480.0,631.1 1483.8,631.4 C1487.5,631.6 1491.3,631.8 1495.1,631.9 C1498.9,632.0 1503.1,632.1 1506.4,632.3 C1509.7,632.5 1512.6,632.7 1514.9,632.9 C1517.2,633.1 1519.1,633.2 1520.3,633.6 C1521.5,634.0 1521.7,634.8 1522.0,635.0" fill="none" stroke="rgb(236,118,100)" stroke-width="3.0" stroke-linejoin="round" stroke-linecap="round" filter="url(#hb)"/>
<path d="M190.0,66.5 C190.3,67.4 191.4,70.1 192.0,72.0 C192.6,73.9 192.9,76.0 193.3,78.0 C193.7,80.0 194.2,81.7 194.5,84.0 C194.8,86.3 195.1,89.0 195.3,92.0 C195.6,95.0 195.7,98.7 196.0,102.0 C196.3,105.3 196.7,109.2 197.0,112.0 C197.3,114.8 197.4,115.2 197.9,119.0 C198.4,122.8 199.1,129.8 199.8,135.0 C200.5,140.2 201.1,143.8 202.0,150.0 C202.9,156.2 204.2,165.3 205.0,172.0 C205.8,178.7 206.2,184.0 207.0,190.0 C207.8,196.0 208.8,202.0 210.0,208.0 C211.2,214.0 212.6,219.8 214.0,226.0 C215.4,232.2 217.3,239.6 218.7,244.9 C220.1,250.2 221.0,253.5 222.4,258.0 C223.8,262.5 225.4,267.3 227.1,272.0 C228.8,276.7 230.8,281.5 232.6,286.0 C234.4,290.5 236.3,295.0 238.2,299.0 C240.1,303.0 241.9,306.8 243.8,310.2 C245.7,313.6 247.4,316.5 249.4,319.6 C251.4,322.7 254.1,326.4 256.0,328.9 C257.9,331.4 259.3,332.7 260.9,334.5 C262.5,336.3 263.9,337.8 265.6,339.8 C267.3,341.9 269.2,344.7 271.2,346.8 C273.2,348.9 275.5,350.4 277.7,352.4 C279.9,354.4 282.0,356.7 284.3,358.9 C286.6,361.1 289.2,363.3 291.7,365.5 C294.2,367.7 296.7,370.0 299.2,372.0 C301.7,374.0 304.2,375.4 306.7,377.6 C309.2,379.8 311.7,382.9 314.2,385.1 C316.7,387.3 318.8,388.8 321.6,390.7 C324.4,392.6 328.9,395.2 331.0,396.5 C333.1,397.8 332.9,397.4 334.3,398.4 C335.7,399.4 337.5,401.2 339.6,402.6 C341.7,404.0 344.4,405.2 347.1,406.5 C349.8,407.8 353.1,409.1 355.6,410.3 C358.1,411.6 359.5,412.9 362.0,414.0 C364.5,415.1 367.8,415.7 370.5,416.7 C373.2,417.7 375.7,418.7 378.0,419.9 C380.3,421.1 382.1,423.0 384.4,424.1 C386.7,425.2 389.6,426.0 391.9,426.8 C394.2,427.6 396.0,427.8 398.3,428.9 C400.6,430.0 402.9,432.4 405.7,433.7 C408.5,435.0 412.4,435.7 415.4,436.9 C418.4,438.1 421.2,439.5 423.9,440.7 C426.6,441.9 428.5,442.9 431.4,443.9 C434.2,444.9 437.4,445.4 441.0,446.5 C444.6,447.6 449.9,449.2 452.7,450.3 C455.5,451.4 455.9,451.8 458.0,452.9 C460.1,454.0 463.2,455.8 465.5,456.7 C467.8,457.6 470.1,457.7 471.9,458.3 C473.7,458.9 474.0,459.5 476.4,460.1 C478.8,460.7 483.3,461.2 486.0,461.9 C488.7,462.6 489.7,463.6 492.4,464.4 C495.1,465.2 499.0,465.7 502.0,466.5 C505.0,467.3 507.6,468.3 510.5,469.2 C513.4,470.1 515.9,471.1 519.1,471.9 C522.3,472.7 526.7,473.4 529.7,474.0 C532.7,474.6 535.1,474.8 537.2,475.6 C539.3,476.4 540.2,477.7 542.5,478.6 C544.8,479.5 548.1,480.1 551.1,480.9 C554.1,481.7 558.2,482.8 560.7,483.6 C563.2,484.4 563.3,484.9 566.0,485.5 C568.7,486.1 573.9,486.8 576.7,487.3 C579.6,487.8 580.8,487.9 583.1,488.6 C585.4,489.3 588.1,490.6 590.6,491.6 C593.1,492.6 595.7,493.8 598.0,494.8 C600.3,495.8 602.1,496.8 604.4,497.6 C606.7,498.4 609.2,499.1 611.9,499.6 C614.6,500.2 617.5,500.3 620.7,500.9 C623.9,501.5 627.8,502.6 631.3,503.3 C634.8,504.0 638.4,504.3 642.0,504.9 C645.6,505.5 649.3,506.6 652.7,507.1 C656.1,507.6 659.5,507.4 662.3,507.8 C665.1,508.2 666.9,509.0 669.7,509.7 C672.5,510.4 676.3,511.2 679.3,511.9 C682.3,512.6 684.3,513.2 687.9,514.0 C691.5,514.8 696.8,515.8 700.7,516.7 C704.6,517.6 707.7,518.4 711.4,519.3 C715.1,520.2 719.4,521.2 723.1,522.0 C726.8,522.8 730.4,523.0 733.8,523.8 C737.2,524.6 739.6,525.8 743.4,526.6 C747.2,527.4 752.8,527.9 756.4,528.7 C760.0,529.5 761.7,530.6 764.9,531.5 C768.1,532.4 772.4,533.1 775.6,533.9 C778.8,534.6 780.9,535.1 784.1,536.0 C787.3,536.9 791.2,538.2 794.8,539.0 C798.4,539.8 802.0,540.2 805.5,540.8 C809.0,541.4 812.2,541.8 816.1,542.4 C820.0,543.0 825.4,543.9 829.0,544.5 C832.6,545.1 834.7,545.5 837.5,546.2 C840.3,546.9 843.0,547.9 846.0,548.6 C849.0,549.3 852.0,549.8 855.6,550.4 C859.2,551.0 863.3,551.9 867.4,552.5 C871.5,553.1 876.7,553.6 880.2,554.3 C883.8,555.0 885.3,556.1 888.7,556.6 C892.1,557.1 896.9,557.1 900.7,557.5 C904.5,557.9 908.5,558.4 911.3,558.9 C914.1,559.4 915.2,559.8 917.7,560.6 C920.2,561.5 923.3,563.0 926.3,564.0 C929.3,565.0 932.3,565.6 935.9,566.3 C939.5,566.9 943.7,567.4 947.6,567.9 C951.5,568.4 955.4,568.6 959.3,569.1 C963.2,569.6 967.5,570.1 971.1,570.8 C974.7,571.5 977.3,572.5 980.7,573.2 C984.1,573.9 987.7,574.6 991.4,575.2 C995.1,575.8 999.0,576.1 1003.1,576.7 C1007.2,577.3 1011.6,578.0 1015.9,578.6 C1020.2,579.2 1024.6,579.9 1028.7,580.4 C1032.8,580.9 1036.9,581.4 1040.7,581.9 C1044.5,582.4 1047.8,582.9 1051.3,583.5 C1054.8,584.1 1058.4,584.9 1062.0,585.5 C1065.6,586.1 1069.2,586.5 1072.7,587.1 C1076.2,587.7 1079.8,588.4 1083.3,589.0 C1086.8,589.6 1090.4,590.1 1094.0,590.5 C1097.6,590.9 1101.1,591.1 1104.7,591.5 C1108.3,591.9 1111.9,592.4 1115.4,593.0 C1119.0,593.6 1122.5,594.5 1126.0,595.0 C1129.5,595.5 1133.1,595.8 1136.7,596.2 C1140.3,596.7 1143.9,597.2 1147.4,597.7 C1151.0,598.2 1154.5,598.5 1158.0,598.9 C1161.5,599.3 1165.0,600.0 1168.7,600.4 C1172.4,600.8 1175.9,600.9 1180.0,601.2 C1184.1,601.5 1188.9,601.7 1193.5,602.3 C1198.1,602.9 1202.9,603.8 1207.6,604.6 C1212.3,605.4 1217.0,606.3 1221.7,606.9 C1226.4,607.5 1231.1,607.9 1235.8,608.3 C1240.5,608.7 1246.0,609.0 1249.9,609.4 C1253.8,609.8 1256.2,609.9 1259.3,610.4 C1262.4,610.9 1264.8,611.5 1268.7,612.1 C1272.6,612.7 1278.1,613.4 1282.8,614.0 C1287.5,614.6 1292.2,615.3 1296.9,615.8 C1301.6,616.3 1306.5,616.7 1311.0,617.0 C1315.5,617.3 1319.6,617.4 1324.1,617.7 C1328.6,618.0 1333.5,618.2 1338.2,618.6 C1342.9,619.0 1347.6,619.4 1352.3,619.8 C1357.0,620.2 1361.7,620.7 1366.4,621.1 C1371.1,621.5 1375.8,621.8 1380.5,622.2 C1385.2,622.6 1389.9,623.0 1394.6,623.4 C1399.3,623.8 1404.0,624.4 1408.7,624.9 C1413.4,625.4 1418.1,625.9 1422.8,626.4 C1427.5,626.9 1432.2,627.2 1436.9,627.6 C1441.6,628.0 1446.9,628.7 1451.0,629.0 C1455.1,629.3 1457.7,629.2 1461.3,629.4 C1464.9,629.6 1468.8,630.1 1472.6,630.4 C1476.3,630.7 1480.0,631.1 1483.8,631.4 C1487.5,631.6 1491.3,631.8 1495.1,631.9 C1498.9,632.0 1503.1,632.1 1506.4,632.3 C1509.7,632.5 1512.6,632.7 1514.9,632.9 C1517.2,633.1 1519.1,633.2 1520.3,633.6 C1521.5,634.0 1521.7,634.8 1522.0,635.0" fill="none" stroke="#cd5746" stroke-width="1.9" stroke-linejoin="round" stroke-linecap="round"/>
<line x1="184.3" y1="82.3" x2="251.2" y2="82.3" stroke="rgb(236,118,100)" stroke-width="3.0" filter="url(#hb)"/>
<line x1="184.3" y1="82.3" x2="251.2" y2="82.3" stroke="#cd5746" stroke-width="1.9"/>
<g font-family="'Liberation Serif', serif" font-size="33" fill="#111">
<text x="261.5" y="96.1">Training</text>
<text x="262" y="128.4">Validation</text>
<text x="128.5" y="77.1" text-anchor="end" font-size="33.5">1</text>
<text x="128.5" y="199.2" text-anchor="end" font-size="33.5">0.8</text>
<text x="128.5" y="322.1" text-anchor="end" font-size="33.5">0.6</text>
<text x="128.5" y="445.0" text-anchor="end" font-size="33.5">0.4</text>
<text x="128.5" y="567.9" text-anchor="end" font-size="33.5">0.2</text>
<text x="190.2" y="700" text-anchor="middle" font-size="33.5">0</text>
<text x="456.7" y="700" text-anchor="middle" font-size="33.5">80</text>
<text x="723.2" y="700" text-anchor="middle" font-size="33.5">160</text>
<text x="989.8" y="700" text-anchor="middle" font-size="33.5">240</text>
<text x="1256.3" y="700" text-anchor="middle" font-size="33.5">320</text>
<text x="1522.8" y="700" text-anchor="middle" font-size="33.5">400</text>
<text x="858" y="735" text-anchor="middle">Number of trees</text>
<text transform="translate(50.8,340.3) rotate(-90)" text-anchor="middle" font-size="32">Loss</text>
</g>
</svg></div>
</body></html>
